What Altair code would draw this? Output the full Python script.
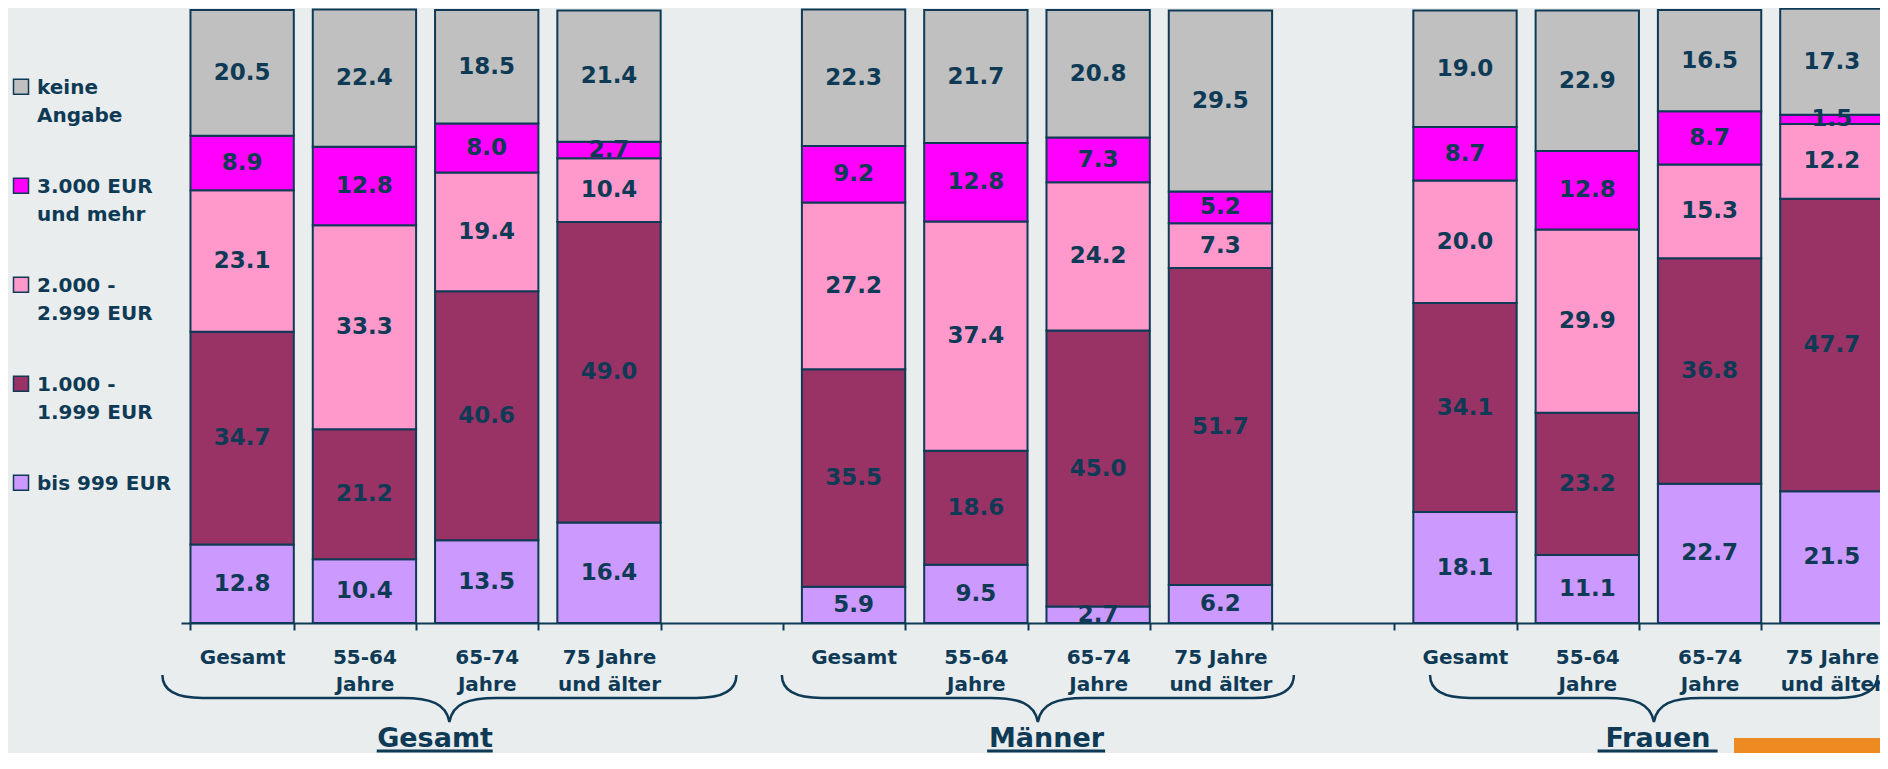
import altair as alt
import pandas as pd

# ---------------- data ----------------
groups = ["Gesamt", "Männer", "Frauen"]
age_labels = ["Gesamt", "55-64\nJahre", "65-74\nJahre", "75 Jahre\nund älter"]
# income classes from bottom to top of each bar
income_labels = ["bis 999 EUR", "1.000 -\n1.999 EUR", "2.000 -\n2.999 EUR",
                 "3.000 EUR\nund mehr", "keine\nAngabe"]
income_colors = ["#CC99FF", "#993366", "#FF99CC", "#FF00FF", "#C0C0C0"]

# rows = income classes (bottom -> top), columns = age groups
gesamt_values = [
    [12.8, 10.4, 13.5, 16.4],
    [34.7, 21.2, 40.6, 49.0],
    [23.1, 33.3, 19.4, 10.4],
    [8.9, 12.8, 8.0, 2.7],
    [20.5, 22.4, 18.5, 21.4],
]
maenner_values = [
    [5.9, 9.5, 2.7, 6.2],
    [35.5, 18.6, 45.0, 51.7],
    [27.2, 37.4, 24.2, 7.3],
    [9.2, 12.8, 7.3, 5.2],
    [22.3, 21.7, 20.8, 29.5],
]
frauen_values = [
    [18.1, 11.1, 22.7, 21.5],
    [34.1, 23.2, 36.8, 47.7],
    [20.0, 29.9, 15.3, 12.2],
    [8.7, 12.8, 8.7, 1.5],
    [19.0, 22.9, 16.5, 17.3],
]
group_values = [gesamt_values, maenner_values, frauen_values]

# ---------------- styling ----------------
NAVY = "#0F3A55"
BG = "#E9EDEE"
FONT = "DejaVu Sans"

rows = []
keys = []
for gi, g in enumerate(groups):
    if gi > 0:
        keys.append(f"gap{gi}")
    for ai, a in enumerate(age_labels):
        k = f"{g}|{a}"
        keys.append(k)
        cum = 0.0
        for ii, inc in enumerate(income_labels):
            v = group_values[gi][ii][ai]
            rows.append(dict(key=k, group=g, income=inc, order=ii, value=v,
                             y0=cum, y1=cum + v, mid=cum + v / 2))
            cum += v
df = pd.DataFrame(rows)

grp_df = pd.DataFrame({"group": groups,
                       "key": [f"{g}|{age_labels[2]}" for g in groups]})


def brace_path(hw, shift):
    h = 0.082
    hy = -0.002
    curl = 0.14
    mid = 0.164
    L, R, C = -hw + shift, hw + shift, shift
    f = lambda v: f"{v:.4f}"
    return (f"M{f(L)},{f(-h)} C{f(L)},{f(-h + 0.05)} {f(L + curl * 0.3)},{f(hy)} {f(L + curl)},{f(hy)} "
            f"L{f(C - mid)},{f(hy)} C{f(C - mid * 0.4)},{f(hy)} {f(C - 0.01)},{f(hy + 0.02)} {f(C)},{f(h)} "
            f"C{f(C + 0.01)},{f(hy + 0.02)} {f(C + mid * 0.4)},{f(hy)} {f(C + mid)},{f(hy)} "
            f"L{f(R - curl)},{f(hy)} C{f(R - curl * 0.3)},{f(hy)} {f(R)},{f(-h + 0.05)} {f(R)},{f(-h)}")


brace_paths = [brace_path(1.0, 0.05), brace_path(0.892, -0.03), brace_path(0.78, -0.014)]

legend_symbol = "M-1,0.16H1V2.16H-1Z"

xscale = alt.Scale(domain=keys, paddingInner=0.155, paddingOuter=0.0775, range=[0, 1712])
xaxis = alt.Axis(
    title=None, labelAngle=0,
    labelExpr=("isString(datum.value) && indexof(datum.value, '|') >= 0 "
               "? split(split(datum.value, '|')[1], '\\n') : ''"),
    labelFont=FONT, labelFontSize=20, labelFontWeight="bold", labelColor=NAVY,
    labelLineHeight=27, labelBaseline="top", labelPadding=17,
    tickBand="extent", tickSize=7, tickColor=NAVY, tickWidth=2,
    domainColor=NAVY, domainWidth=2, grid=False, labelOverlap=False,
)
yscale = alt.Scale(domain=[0, 100], nice=False, zero=True)

bars = alt.Chart(df).mark_bar(stroke=NAVY, strokeWidth=2).encode(
    x=alt.X("key:N", scale=xscale, axis=xaxis),
    y=alt.Y("y0:Q", scale=yscale, axis=None),
    y2="y1:Q",
    color=alt.Color(
        "income:N",
        scale=alt.Scale(domain=income_labels[::-1], range=income_colors[::-1]),
        legend=alt.Legend(
            orient="none", legendX=-170, legendY=58, title=None, padding=0,
            labelFont=FONT, labelFontSize=20, labelFontWeight="bold", labelColor=NAVY,
            labelBaseline="top",
            labelExpr="isString(datum.label) ? split(datum.label, '\\n') : ''",
            labelLimit=300, labelOffset=6, rowPadding=41,
            symbolType=legend_symbol, symbolSize=225, symbolStrokeColor=NAVY,
            symbolStrokeWidth=1.5, symbolOpacity=1,
        ),
    ),
)

labels = alt.Chart(df).mark_text(font=FONT, fontSize=23, fontWeight="bold", color=NAVY,
                                 baseline="middle", align="center").encode(
    x=alt.X("key:N", scale=xscale, axis=xaxis),
    y=alt.Y("mid:Q", scale=yscale, axis=None),
    text=alt.Text("value:Q", format=".1f"),
)

braces = alt.Chart(grp_df).mark_point(filled=False, color=NAVY, strokeWidth=2.5,
                                      opacity=1, size=574 * 574).encode(
    x=alt.X("key:N", scale=xscale, axis=xaxis, bandPosition=0),
    y=alt.value(688.5),
    shape=alt.Shape("group:N", scale=alt.Scale(domain=groups, range=brace_paths), legend=None),
)

titles = alt.Chart(grp_df).mark_text(font=FONT, fontSize=27, fontWeight="bold", color=NAVY,
                                     baseline="alphabetic", align="center").encode(
    x=alt.X("key:N", scale=xscale, axis=xaxis, bandPosition=0),
    y=alt.value(737),
    text="group:N",
)

underlines = alt.Chart(grp_df).mark_tick(orient="horizontal", thickness=3, color=NAVY,
                                         opacity=1, xOffset=-52).encode(
    x=alt.X("key:N", scale=xscale, axis=xaxis, bandPosition=0),
    y=alt.value(741),
    size=alt.Size("group:N", scale=alt.Scale(domain=groups, range=[116, 120, 106]), legend=None),
)

logo = alt.Chart(pd.DataFrame({"brand": ["GfK"]})).mark_rect(color="#EE8A22").encode(
    x=alt.value(1553), x2=alt.value(1720), y=alt.value(728), y2=alt.value(770),
)

chart = alt.layer(bars, labels, braces, titles, underlines, logo).properties(
    width=1699, height=613,
    autosize=alt.AutoSizeParams(type="none"),
    padding={"left": 173, "top": 2, "right": 0, "bottom": 130},
    background=BG,
).configure(style={"guide-label": {"lineHeight": 28}}).configure_view(stroke=None)

chart.save("out.html", embed_options={"renderer": "svg", "actions": False})
